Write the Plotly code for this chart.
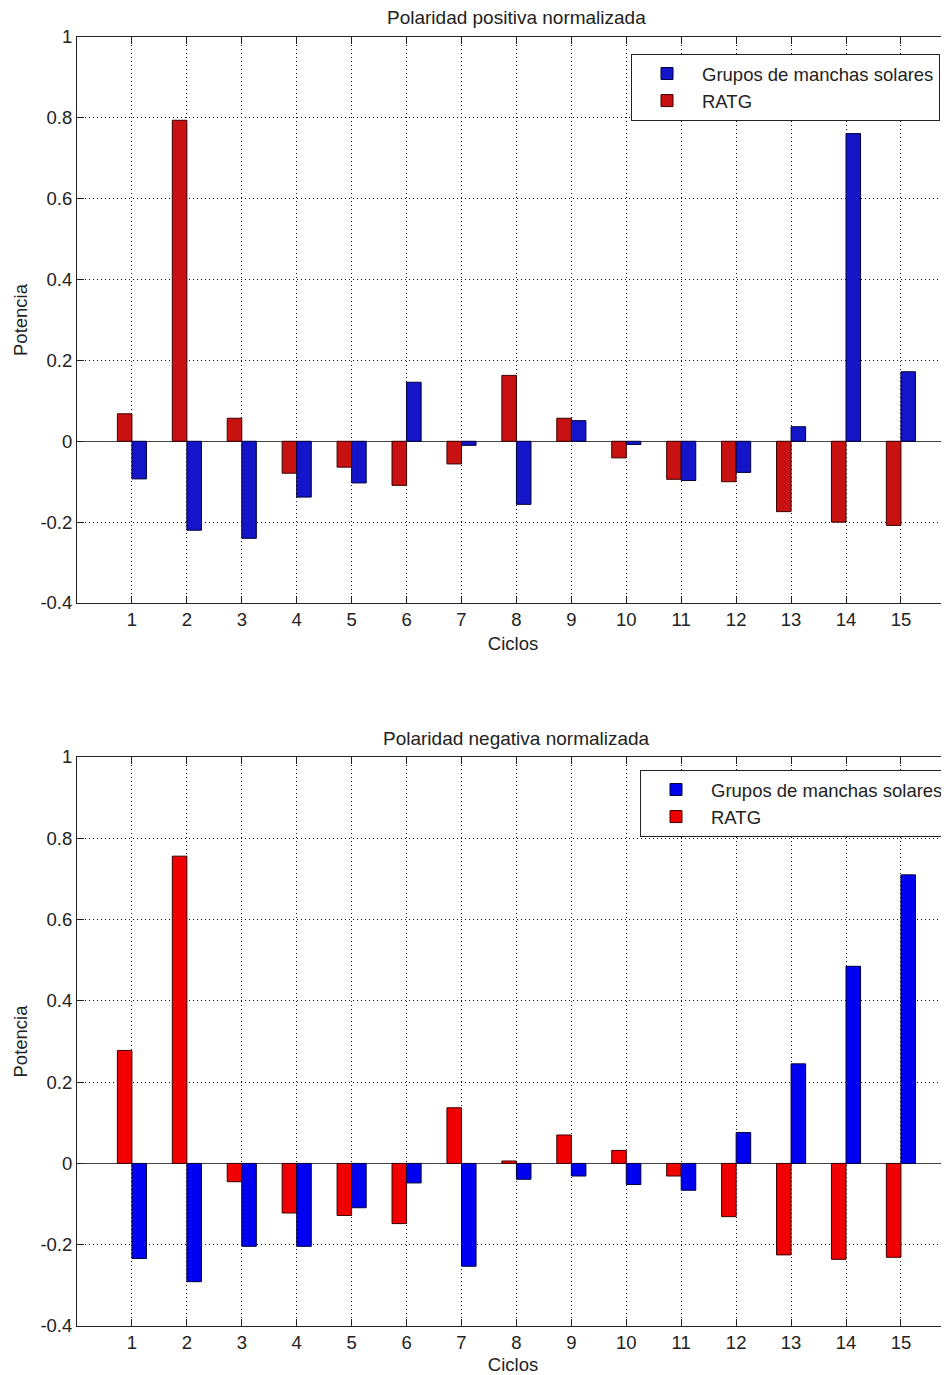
import plotly.graph_objects as go

cycles = list(range(1, 16))

# Top panel: positive polarity (normalized)
pos_ratg = [0.068, 0.794, 0.057, -0.079, -0.064, -0.109, -0.056, 0.163, 0.057,
            -0.041, -0.094, -0.100, -0.174, -0.200, -0.208]
pos_sun = [-0.093, -0.220, -0.240, -0.138, -0.103, 0.146, -0.010, -0.156, 0.051,
           -0.008, -0.097, -0.077, 0.036, 0.761, 0.172]

# Bottom panel: negative polarity (normalized)
neg_ratg = [0.278, 0.756, -0.045, -0.122, -0.128, -0.148, 0.137, 0.006, 0.070,
            0.032, -0.031, -0.131, -0.225, -0.236, -0.231]
neg_sun = [-0.234, -0.291, -0.204, -0.204, -0.109, -0.048, -0.253, -0.039, -0.031,
           -0.052, -0.066, 0.076, 0.245, 0.485, 0.710]

series_names = ["Grupos de manchas solares", "RATG"]
panel_titles = ["Polaridad positiva normalizada", "Polaridad negativa normalizada"]
y_ticks = [-0.4, -0.2, 0, 0.2, 0.4, 0.6, 0.8, 1]
y_ticktext = ["-0.4", "-0.2", "0", "0.2", "0.4", "0.6", "0.8", "1"]

OFF = 8  # page body margin
PW, PH = 949, 1375
W, H = PW - OFF, PH - OFF
FONT = "Liberation Sans, Arial, sans-serif"
FS = 18.5
BW = 0.265
INK = "#222"
LEFT_PAGE = 77
GRID_DASH = "1px,3px"

def px(page_x):
    return (page_x - LEFT_PAGE) / (PW - LEFT_PAGE)

def py(page_y):
    return 1 - (page_y - OFF) / H

fig = go.Figure()

panels = [
    (pos_ratg, pos_sun, "#c81212", "#1414c8", "x", "y", "legend"),
    (neg_ratg, neg_sun, "#f00000", "#0000f0", "x2", "y2", "legend2"),
]
for ratg, sun, red, blue, xa, ya, lg in panels:
    fig.add_trace(go.Bar(x=cycles, y=ratg, name=series_names[1], width=BW, offset=-BW,
                         marker=dict(color=red, line=dict(color="#3a0000", width=1)),
                         xaxis=xa, yaxis=ya, legend=lg, legendrank=2))
    fig.add_trace(go.Bar(x=cycles, y=sun, name=series_names[0], width=BW, offset=0,
                         marker=dict(color=blue, line=dict(color="#00003a", width=1)),
                         xaxis=xa, yaxis=ya, legend=lg, legendrank=1))

xmax = (PW - LEFT_PAGE) / ((901 - 132) / 14)

def xax(anchor):
    return dict(range=[0, xmax], tickvals=cycles, ticktext=[str(c) for c in cycles],
                showgrid=True, gridcolor="#111", griddash=GRID_DASH, gridwidth=1,
                ticks="inside", ticklen=7, tickcolor=INK, mirror="allticks",
                showline=True, linecolor=INK, linewidth=1, zeroline=False,
                tickfont=dict(family=FONT, size=FS, color=INK),
                title=dict(text="Ciclos", font=dict(family=FONT, size=FS, color=INK), standoff=7),
                automargin=False, anchor=anchor)

def yax(domain, anchor):
    return dict(range=[-0.4, 1], domain=domain, tickvals=y_ticks, ticktext=y_ticktext,
                showgrid=True, gridcolor="#111", griddash=GRID_DASH, gridwidth=1,
                ticks="inside", ticklen=7, tickcolor=INK,
                showline=True, linecolor=INK, linewidth=1,
                zeroline=True, zerolinecolor="#444", zerolinewidth=1,
                tickfont=dict(family=FONT, size=FS, color=INK),
                title=dict(text="Potencia", font=dict(family=FONT, size=FS, color=INK), standoff=7),
                automargin=False, anchor=anchor)

top_dom = [py(603), py(37)]
bot_dom = [py(1326), py(757)]

leg_common = dict(bgcolor="white", bordercolor=INK, borderwidth=1,
                  font=dict(family=FONT, size=FS, color=INK),
                  yanchor="top", xanchor="right", itemwidth=60, tracegroupgap=0)

fig.update_layout(
    width=W, height=H,
    margin=dict(l=LEFT_PAGE - OFF, r=0, t=0, b=0, autoexpand=False),
    paper_bgcolor="white", plot_bgcolor="white",
    barmode="overlay",
    xaxis=xax("y"), yaxis=yax(top_dom, "x"),
    xaxis2=xax("y2"), yaxis2=yax(bot_dom, "x2"),
    legend=dict(x=px(940), y=py(54), **leg_common),
    legend2=dict(x=1, y=py(770), **leg_common),
    annotations=[
        dict(text=panel_titles[0], x=px(516), y=py(17),
             xref="paper", yref="paper", showarrow=False, xanchor="center", yanchor="middle",
             font=dict(family=FONT, size=19, color=INK)),
        dict(text=panel_titles[1], x=px(516), y=py(738),
             xref="paper", yref="paper", showarrow=False, xanchor="center", yanchor="middle",
             font=dict(family=FONT, size=19, color=INK)),
    ],
    showlegend=True,
)

fig.write_html("out.html")
